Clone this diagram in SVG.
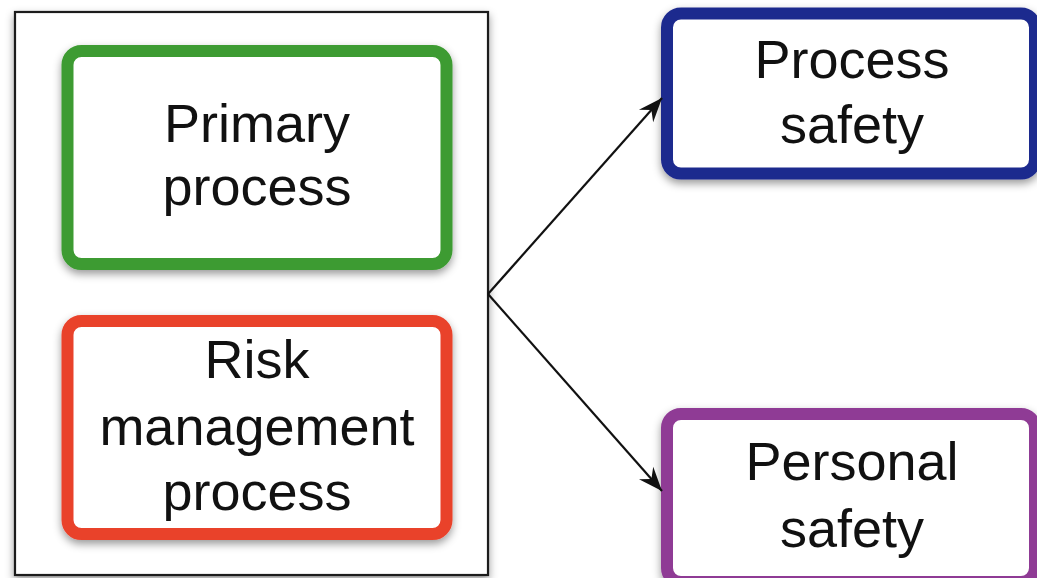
<svg xmlns="http://www.w3.org/2000/svg" width="1037" height="578" viewBox="0 0 1037 578">
  <defs>
    <filter id="sh" x="-10%" y="-10%" width="120%" height="125%">
      <feDropShadow dx="0" dy="4" stdDeviation="4" flood-color="#000" flood-opacity="0.4"/>
    </filter>
    <marker id="ah" viewBox="-26 -11 28 22" refX="0" refY="0" markerWidth="28" markerHeight="22" markerUnits="userSpaceOnUse" orient="auto">
      <path d="M0,0 L-24,-9.5 L-16,0 L-24,9.5 Z" fill="#111"/>
    </marker>
  </defs>
  <style>
    .lbl { font-family: "Liberation Sans", Arial, sans-serif; font-size: 54px; fill: #111; text-anchor: middle; }
    .box { fill: #fff; stroke-width: 12; stroke-linejoin: round; }
    .conn { stroke: #111; stroke-width: 2.2; fill: none; marker-end: url(#ah); }
  </style>
  <rect width="1037" height="578" fill="#fff"/>

  <g id="container">
    <rect x="15" y="12" width="473" height="563" fill="#fff" stroke="#1a1a1a" stroke-width="2.2" filter="url(#sh)"/>
  </g>

  <g id="primary">
    <rect class="box" x="67.5" y="51" width="379" height="213" rx="14" stroke="#3c9b30" filter="url(#sh)"/>
    <text class="lbl" x="257" y="142">Primary</text>
    <text class="lbl" x="257" y="205">process</text>
  </g>

  <g id="risk">
    <rect class="box" x="67.5" y="321" width="379" height="213" rx="14" stroke="#e9422c" filter="url(#sh)"/>
    <text class="lbl" x="257" y="378">Risk</text>
    <text class="lbl" x="257" y="445">management</text>
    <text class="lbl" x="257" y="510">process</text>
  </g>

  <g id="process-safety">
    <rect class="box" x="667" y="13.5" width="368" height="160" rx="14" stroke="#1f2a8e" filter="url(#sh)"/>
    <text class="lbl" x="852" y="78">Process</text>
    <text class="lbl" x="852" y="143">safety</text>
  </g>

  <g id="personal-safety">
    <rect class="box" x="667" y="414" width="368" height="168" rx="14" stroke="#8f3a95" filter="url(#sh)"/>
    <text class="lbl" x="852" y="480">Personal</text>
    <text class="lbl" x="852" y="547">safety</text>
  </g>

  <g id="connectors">
    <line class="conn" x1="488" y1="294" x2="662" y2="98"/>
    <line class="conn" x1="488" y1="294" x2="662" y2="491"/>
  </g>
</svg>
